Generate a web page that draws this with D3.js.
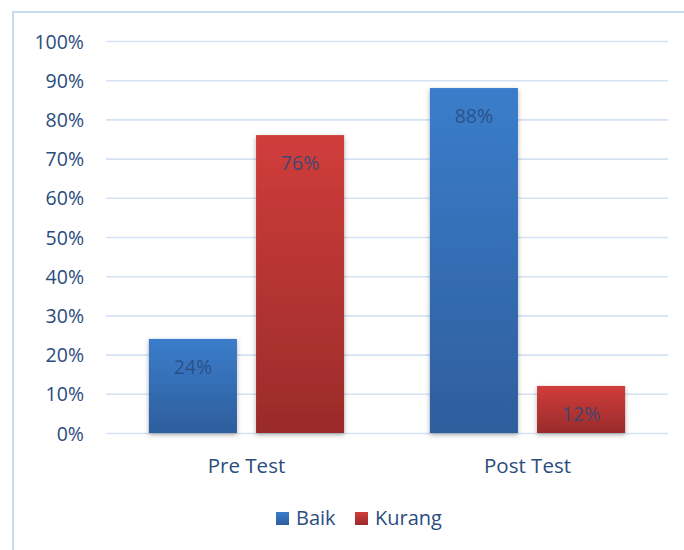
<!DOCTYPE html>
<html lang="en">
<head>
    <meta charset="UTF-8">
    <title>Pre Test / Post Test</title>
    <script src="https://cdn.jsdelivr.net/npm/d3@7/dist/d3.min.js"></script>
    <style>
        body { margin: 0; background: #fff; }
        svg { display: block; font-family: "Open Sans", "Noto Sans", sans-serif; }
        .grid line { stroke: #d5e2f3; stroke-width: 1.6px; }
        .grid .domain { display: none; }
        .tick text { fill: #2b4c7e; }
    </style>
</head>
<body>
<script>
    // data
    const categories = ['Pre Test', 'Post Test'];
    const series = ['Baik', 'Kurang'];
    const baik = [0.24, 0.88];
    const kurang = [0.76, 0.12];
    const yTicks = [0, 0.1, 0.2, 0.3, 0.4, 0.5, 0.6, 0.7, 0.8, 0.9, 1];

    const width = 684;
    const height = 550;
    const margin = {top: 41, right: 16, bottom: 117, left: 106};
    const font = '"Open Sans", "Noto Sans", sans-serif';

    const svg = d3.select('body')
        .append('svg')
        .attr('width', width)
        .attr('height', height);

    // gradients + shadow
    const defs = svg.append('defs');
    const grads = {
        Baik: ['#3b7dcb', '#2e5e9d'],
        Kurang: ['#d03d3b', '#9a2b2a']
    };
    series.forEach(s => {
        let g = defs.append('linearGradient')
            .attr('id', 'g-' + s)
            .attr('x1', 0).attr('y1', 0).attr('x2', 0).attr('y2', 1);
        g.append('stop').attr('offset', '0%').attr('stop-color', grads[s][0]);
        g.append('stop').attr('offset', '100%').attr('stop-color', grads[s][1]);
    });
    const f = defs.append('filter').attr('id', 'shadow')
        .attr('x', '-20%').attr('y', '-10%').attr('width', '140%').attr('height', '130%');
    f.append('feDropShadow')
        .attr('dx', 0).attr('dy', 2).attr('stdDeviation', 2.5)
        .attr('flood-color', '#000').attr('flood-opacity', 0.3);

    // chart border (runs off the right and bottom edges)
    svg.append('rect')
        .attr('x', 13).attr('y', 12)
        .attr('width', 700).attr('height', 600)
        .attr('fill', 'none')
        .attr('stroke', '#c9dbf1')
        .attr('stroke-width', 2);

    const x0 = d3.scaleBand()
        .domain(categories)
        .range([margin.left, width - margin.right]);

    const x1 = d3.scaleBand()
        .domain(series)
        .range([0, x0.bandwidth()])
        .paddingInner(0.178)
        .paddingOuter(0.40);

    const y = d3.scaleLinear()
        .domain([0, 1])
        .range([height - margin.bottom, margin.top]);

    // gridlines + y labels
    svg.append('g')
        .attr('class', 'grid')
        .attr('transform', `translate(${margin.left},0)`)
        .call(d3.axisLeft(y)
            .tickValues(yTicks)
            .tickSize(-(width - margin.left - margin.right))
            .tickPadding(22)
            .tickFormat(d3.format('.0%')))
        .call(g => g.selectAll('text')
            .attr('font-size', 19.5)
            .attr('font-family', font)
            .attr('dy', '0.36em'));

    const rows = categories.map((c, i) => ({cat: c, Baik: baik[i], Kurang: kurang[i]}));

    const groups = svg.append('g')
        .selectAll('g')
        .data(rows)
        .enter()
        .append('g')
        .attr('transform', d => `translate(${x0(d.cat)},0)`);

    groups.selectAll('rect')
        .data(d => series.map(s => ({key: s, value: d[s]})))
        .enter()
        .append('rect')
        .attr('x', d => x1(d.key))
        .attr('y', d => y(d.value))
        .attr('width', x1.bandwidth())
        .attr('height', d => y(0) - y(d.value))
        .attr('fill', d => `url(#g-${d.key})`)
        .attr('filter', 'url(#shadow)');

    groups.selectAll('text.val')
        .data(d => series.map(s => ({key: s, value: d[s]})))
        .enter()
        .append('text')
        .attr('class', 'val')
        .attr('x', d => x1(d.key) + x1.bandwidth() / 2)
        .attr('y', d => y(d.value) + 35)
        .attr('text-anchor', 'middle')
        .attr('font-size', 19.5)
        .attr('fill', '#264a7c')
        .attr('fill-opacity', 0.85)
        .text(d => d3.format('.0%')(d.value));

    // x labels
    const xAxis = svg.append('g')
        .attr('transform', `translate(0,${y(0)})`)
        .call(d3.axisBottom(x0).tickSize(0).tickPadding(25));
    xAxis.select('.domain').remove();
    xAxis.selectAll('text')
        .attr('font-size', 20.5)
        .attr('font-family', font);

    // legend
    const legendX = [276, 355];
    const legend = svg.append('g')
        .selectAll('g')
        .data(series)
        .enter()
        .append('g')
        .attr('transform', (d, i) => `translate(${legendX[i]},512)`);
    legend.append('rect')
        .attr('width', 13).attr('height', 13)
        .attr('fill', d => `url(#g-${d})`);
    legend.append('text')
        .attr('x', 20).attr('y', 13)
        .attr('font-size', 20)
        .attr('fill', '#2b4c7e')
        .text(d => d);
</script>
</body>
</html>
